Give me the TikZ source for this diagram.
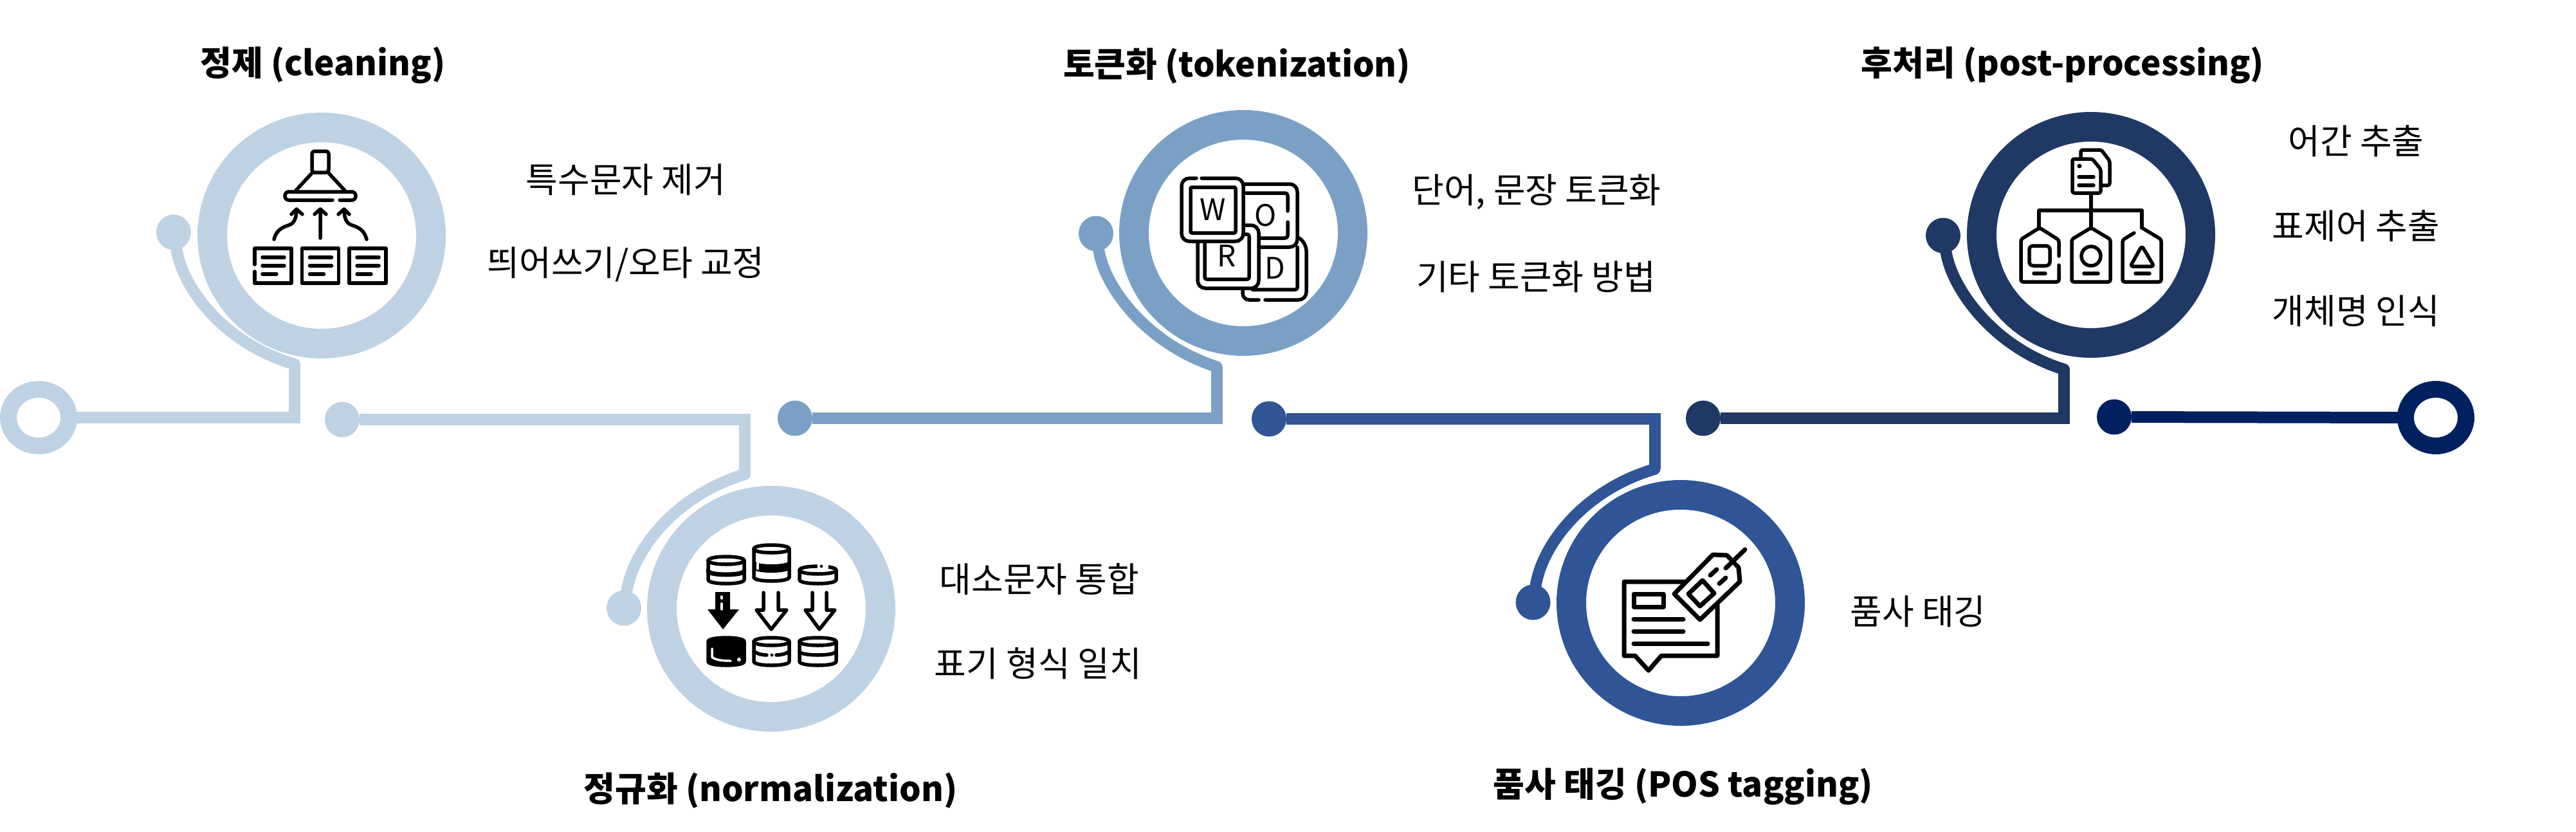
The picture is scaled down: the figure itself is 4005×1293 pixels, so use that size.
\documentclass[tikz,border=0pt]{standalone}
\usepackage{fontspec}
\usetikzlibrary{shapes.geometric}
\setmainfont{Noto Sans CJK KR}
\definecolor{cA}{HTML}{BFD2E4}
\definecolor{cB}{HTML}{7BA0C6}
\definecolor{cC}{HTML}{2F5597}
\definecolor{cD}{HTML}{203864}
\definecolor{cE}{HTML}{002060}
\newcommand\cylbody[5]{\draw[icon,#5] (#1,#3) .. controls (#1,#3-8) and (#2,#3-8) .. (#2,#3) -- (#2,#4) .. controls (#2,#4+8) and (#1,#4+8) .. (#1,#4) -- cycle;}
\newcommand\cylfront[4]{\draw[icon,#4] (#1,#3) .. controls (#1,#3+8) and (#2,#3+8) .. (#2,#3);}
\tikzset{
  x=1pt,y=-1pt,
  bigring/.style={ellipse,draw=#1,fill=white,line width=46pt,minimum width=340pt,minimum height=336pt,inner sep=0pt,outer sep=0pt},
  endring/.style={ellipse,draw=#1,fill=white,line width=26pt,minimum width=94pt,minimum height=88pt,inner sep=0pt,outer sep=0pt},
  blob/.style={ellipse,fill=#1,minimum width=54pt,minimum height=55pt,inner sep=0pt,outer sep=0pt},
  wire/.style={draw=#1,line width=18pt,line join=miter},
  tail/.style={draw=#1,line width=18pt,line cap=round},
  title/.style={font=\fontsize{53}{60}\selectfont\bfseries,inner sep=0pt},
  item/.style={font=\fontsize{54}{60}\selectfont,inner sep=0pt},
  icon/.style={draw=black,line width=5.5pt,line cap=round,line join=round},
  key/.style={font=\fontsize{46}{50}\selectfont,inner sep=0pt,text=black},
}
\begin{document}
\begin{tikzpicture}
\useasboundingbox (0,0) rectangle (4005,1293);
% rings
\node[bigring=cA] (r1) at (500,366) {};
\node[bigring=cA] (r2) at (1199,946) {};
\node[bigring=cB] (r3) at (1933,362) {};
\node[bigring=cC] (r4) at (2613,937) {};
\node[bigring=cD] (r5) at (3251,365) {};
\node[endring=cA] (s0) at (60,649) {};
\node[endring=cE] (e0) at (3787,649) {};
% dots
\node[blob=cA] (t1) at (270,361) {};
\node[blob=cA] (h2) at (532,652) {};
\node[blob=cA] (t2) at (970,945) {};
\node[blob=cB] (h3) at (1236,650) {};
\node[blob=cB] (t3) at (1704,363) {};
\node[blob=cC] (h4) at (1973,651) {};
\node[blob=cC] (t4) at (2383.5,936) {};
\node[blob=cD] (h5) at (2648,650) {};
\node[blob=cD] (t5) at (3021,366) {};
\node[blob=cE] (h6) at (3287,648) {};
% corners and junctions
\coordinate (c1) at (458,649); \coordinate (j1) at (458,566);
\coordinate (c2) at (1158,652); \coordinate (j2) at (1158,737);
\coordinate (c3) at (1891.5,650); \coordinate (j3) at (1891.5,570);
\coordinate (c4) at (2572.5,651); \coordinate (j4) at (2572.5,729);
\coordinate (c5) at (3209,650); \coordinate (j5) at (3209,574);
% connectors
\draw[tail=cA] (j1) .. controls (350,535) and (285,450) .. (t1);
\draw[wire=cA] (s0.east) -- (c1) -- (j1);
\draw[tail=cA] (j2) .. controls (1049,770) and (985,855) .. (t2);
\draw[wire=cA] (h2) -- (c2) -- (j2);
\draw[tail=cB] (j3) .. controls (1783,535) and (1718,447) .. (t3);
\draw[wire=cB] (h3) -- (c3) -- (j3);
\draw[tail=cC] (j4) .. controls (2463,761) and (2398,846) .. (t4);
\draw[wire=cC] (h4) -- (c4) -- (j4);
\draw[tail=cD] (j5) .. controls (3101,541) and (3036,451) .. (t5);
\draw[wire=cD] (h5) -- (c5) -- (j5);
\draw[wire=cE] (h6) -- (e0.west);
% titles
\node[title] (ta) at (502,101) {정제 (cleaning)};
\node[title] (tb) at (1198,1229) {정규화 (normalization)};
\node[title] (tc) at (1923,103) {토큰화 (tokenization)};
\node[title] (td) at (2617,1222) {품사 태깅 (POS tagging)};
\node[title] (te) at (3207,101) {후처리 (post-processing)};
% items
\node[item] (i1) at (973,279) {특수문자 제거};
\node[item] (i2) at (973,411) {띄어쓰기/오타 교정};
\node[item] (i3) at (1616,900) {대소문자 통합};
\node[item] (i4) at (1614,1031) {표기 형식 일치};
\node[item] (i5) at (2389,298) {단어, 문장 토큰화};
\node[item] (i6) at (2388,430) {기타 토큰화 방법};
\node[item] (i7) at (2982,950) {품사 태깅};
\node[item] (i8) at (3663,219) {어간 추출};
\node[item] (i9) at (3663,351) {표제어 추출};
\node[item] (i10) at (3663,483) {개체명 인식};
% icon 1: hood
\draw[icon,rounded corners=4pt] (485,268) -- (485,235) -- (511,235) -- (511,268) -- cycle;
\draw[icon] (485,269) -- (460,296) (511,269) -- (536,296);
\draw[icon,rounded corners=6pt] (517,311) -- (443,311) -- (443,298) -- (553,298) -- (553,311) -- (528,311);
\draw[icon] (498,370) -- (498,326) (489,333) -- (498,325) -- (507,333);
\draw[icon] (426,372) .. controls (431,352) and (447,352) .. (453,348) .. controls (459,344) and (461,335) .. (461,326);
\draw[icon] (453,333) -- (461,325) -- (470,333);
\draw[icon] (570,372) .. controls (565,352) and (549,352) .. (543,348) .. controls (537,344) and (535,335) .. (535,326);
\draw[icon] (526,333) -- (535,325) -- (543,333);
\draw[icon] (396,411) -- (396,386) -- (453,386) -- (453,440) -- (396,440) -- (396,422);
\draw[icon] (408,400) -- (442,400) (408,413) -- (442,413) (408,426) -- (430,426);
\foreach \dx in {73.5,147}{
  \begin{scope}[xshift=\dx pt]
  \draw[icon] (396,386) rectangle (453,440);
  \draw[icon] (408,400) -- (442,400) (408,413) -- (442,413) (408,426) -- (430,426);
  \end{scope}
}
% icon 2: cylinders
\cylbody{1101}{1157}{871}{901}{}
\cylfront{1101}{1157}{871}{}
\cylfront{1101}{1157}{887}{line width=7pt}
\cylbody{1172}{1227}{853}{897}{}
\cylfront{1172}{1227}{853}{}
\fill (1172,871) .. controls (1172,879) and (1227,879) .. (1227,871) -- (1227,884) .. controls (1227,892) and (1172,892) .. (1172,884) -- cycle;
\draw[white,line width=3.5pt,line cap=round] (1178,876) -- (1178,884);
\cylbody{1243}{1300}{886}{901}{}
\cylfront{1243}{1300}{886}{}
\fill[white] (1271,876) rectangle (1288,884);
\fill (1277,880) circle[radius=2.5];
\fill (1112,920) -- (1135,920) -- (1135,947) -- (1149,947) -- (1124,978) -- (1100,947) -- (1112,947) -- cycle;
\draw[white,line width=3.5pt,line cap=round] (1122,927) -- (1122,930) (1122,938) -- (1122,947);
\draw[icon] (1187,921) -- (1187,948) -- (1176,948) -- (1199,978) -- (1223,948) -- (1210,948) -- (1210,921);
\draw[icon] (1263,921) -- (1263,948) -- (1252,948) -- (1274,978) -- (1298,948) -- (1285,948) -- (1285,921);
\cylbody{1101}{1157}{997}{1028}{fill=black}
\draw[white,line width=3.5pt,line cap=round] (1107,1008) -- (1107,1021) .. controls (1112,1026) and (1125,1027) .. (1136,1027);
\fill[white] (1149,1025) circle[radius=3];
\cylbody{1172}{1227}{997}{1028}{}
\cylfront{1172}{1227}{997}{}
\draw[icon] (1172,1012) .. controls (1176,1016) and (1185,1018) .. (1192,1018) (1207,1018) .. controls (1214,1018) and (1223,1016) .. (1227,1012);
\fill (1200,1018) circle[radius=2.5];
\cylbody{1243}{1300}{997}{1028}{}
\cylfront{1243}{1300}{997}{}
\cylfront{1243}{1300}{1012}{}
% icon 3: word keys
\draw[icon,rounded corners=12pt] (1860,277) -- (1837,277) -- (1837,375) -- (1933,375) -- (1933,277) -- (1868,277);
\draw[icon,rounded corners=2pt] (1851,291) rectangle (1921,362);
\draw[icon,rounded corners=12pt] (1935,286) -- (2017,286) -- (2017,384) -- (1957,384);
\draw[icon,rounded corners=4pt] (1937,300) -- (2002,300) -- (2002,328);
\draw[icon,rounded corners=4pt] (2002,345) -- (2002,370) -- (1958,370);
\draw[icon,rounded corners=12pt] (1862,377) -- (1862,448) -- (1957,448) -- (1957,350) -- (1935,350);
\draw[icon,rounded corners=3pt] (1873,377) -- (1873,434) -- (1942,434) -- (1942,364) -- (1936,364);
\draw[icon,rounded corners=12pt] (2020,370) -- (2031,378) -- (2031,466) -- (1967,466);
\draw[icon,rounded corners=10pt] (1957,466) -- (1932,466) -- (1932,450);
\draw[icon,rounded corners=3pt] (2017,384) -- (2017,450) -- (1947,450);
\node[key] (kw) at (1886,326) {W};
\node[key] (ko) at (1968,335) {O};
\node[key] (kr) at (1907,398) {R};
\node[key] (kd) at (1982,417) {D};
% icon 4: tagged note
\draw[icon,line width=7pt] (2620,904) -- (2525,904) -- (2525,1019) -- (2542,1019) -- (2563,1042) -- (2583,1019) -- (2670,1019) -- (2670,940);
\draw[icon,line width=7pt] (2540,923) rectangle (2586,943);
\draw[icon,line width=7pt] (2540,962) -- (2617,962) (2540,981) -- (2617,981) (2540,1000) -- (2655,1000);
\draw[icon,line width=7pt,fill=white] (2603,923) -- (2663,862) -- (2685,863) -- (2703,882) -- (2705,904) -- (2643,963) -- cycle;
\draw[icon,line width=7pt] (2713,854) -- (2683,883);
\draw[icon,line width=7pt] (2647,902) -- (2665,922) -- (2643,942) -- (2625,923) -- cycle;
\draw[icon,line width=7pt] (2659,894) -- (2669,885) (2673,907) -- (2683,898);
% icon 5: hierarchy of tags
\draw[icon,rounded corners=3pt] (3235,245) -- (3235,233) -- (3267,233) -- (3280,250) -- (3280,288) -- (3267,288);
\draw[icon,fill=white,rounded corners=3pt] (3222,247) -- (3253,247) -- (3266,263) -- (3266,300) -- (3222,300) -- cycle;
\fill (3233,258) circle[radius=3.5];
\draw[icon] (3232,275) -- (3255,275) (3232,288) -- (3255,288);
\draw[icon] (3251,302) -- (3251,354) (3170,354) -- (3170,327) -- (3330,327) -- (3330,354);
\draw[icon,rounded corners=3pt] (3201,398) -- (3201,373) -- (3171,354) -- (3142,372) -- (3142,438) -- (3201,438) -- (3201,412);
\draw[icon,rounded corners=6pt] (3155,382) rectangle (3187,413);
\draw[icon] (3162,425) -- (3180,425);
\draw[icon,rounded corners=3pt] (3281,372) -- (3251,354) -- (3221,372) -- (3221,438) -- (3281,438) -- cycle;
\draw[icon] (3251,398) circle[radius=15];
\draw[icon] (3240,425) -- (3262,425);
\draw[icon,rounded corners=3pt] (3318,362) -- (3300,373) -- (3300,438) -- (3360,438) -- (3360,372) -- (3330,354);
\draw[icon,rounded corners=4pt] (3330,382) -- (3349,414) -- (3312,414) -- cycle;
\draw[icon] (3320,425) -- (3342,425);
\end{tikzpicture}
\end{document}
